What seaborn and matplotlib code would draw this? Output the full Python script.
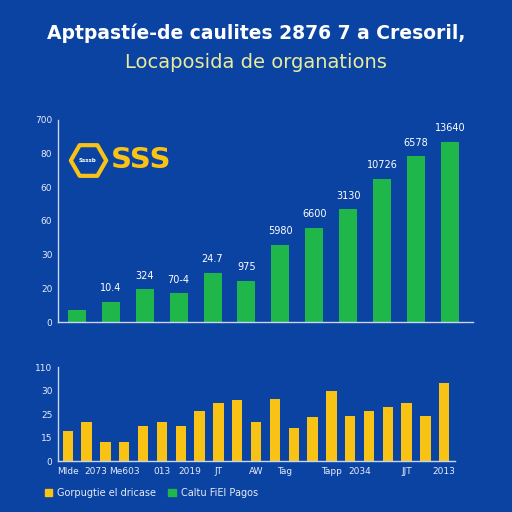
import pandas as pd
import matplotlib
matplotlib.use("Agg")
import matplotlib.pyplot as plt
import seaborn as sns
from matplotlib.patches import Patch

# dados
top_cats = ['a1', 'a2', 'a3', 'a4', 'a5', 'a6', 'a7', 'a8', 'a9', 'a10', 'a11', 'a12']
top_vals = [7, 12, 19.7, 17.3, 29.3, 24.5, 46, 56, 67, 85, 98.5, 107]
top_labels = ['', '10.4', '324', '70-4', '24.7', '975', '5980', '6600', '3130', '10726', '6578', '13640']
top_yticks = [0, 20, 40, 60, 80, 100, 120]
top_ytick_labels = ['0', '20', '30', '60', '60', '80', '700']

bot_cats = ['b%d' % i for i in range(21)]
bot_vals = [12.6, 16.5, 8.3, 8.2, 14.8, 16.5, 14.8, 21.2, 24.8, 26, 16.5,
            26.4, 13.9, 18.6, 30, 19.1, 21.2, 23, 24.8, 19.1, 33.5]
bot_yticks = [0, 10, 20, 30, 40]
bot_ytick_labels = ['0', '15', '25', '30', '110']
bot_xticks = [0, 1.5, 3, 5, 6.5, 8, 10, 11.5, 14, 15.5, 18, 20]
bot_xtick_labels = ['Mlde', '2073', 'Me603', '013', '2019', 'JT', 'AW', 'Tag', 'Tapp', '2034', 'JJT', '2013']

legend_labels = ['Gorpugtie el dricase', 'Caltu FiEl Pagos']

bg = '#0b43a3'
green = '#1fb64a'
yellow = '#f9c316'
txt = '#e6ecf8'

sns.set_theme(style='white')
plt.rcParams['font.family'] = ['DejaVu Sans']

fig = plt.figure(figsize=(5.12, 5.12), dpi=100, facecolor=bg)

fig.text(0.5, 0.935, 'Aptpastíe-de caulites 2876 7 a Cresoril,', ha='center', va='center',
         color='white', fontsize=13.5, fontweight='bold')
fig.text(0.5, 0.878, 'Locaposida de organations', ha='center', va='center',
         color='#e9eb9c', fontsize=14)

# grafico de cima
ax1 = fig.add_axes([0.113, 0.371, 0.811, 0.395], facecolor='none')
df1 = pd.DataFrame({'cat': top_cats, 'val': top_vals})
sns.barplot(data=df1, x='cat', y='val', order=top_cats, color=green, width=0.53,
            saturation=1, linewidth=0, ax=ax1)
ax1.bar_label(ax1.containers[0], labels=top_labels, padding=6, color='white', fontsize=7)
ax1.set_xlim(-0.56, 11.68)
ax1.set_ylim(0, 120)
ax1.set_yticks(top_yticks)
ax1.set_yticklabels(top_ytick_labels)
ax1.set_xticks([])
ax1.set_xlabel('')
ax1.set_ylabel('')

# logo
ax1.scatter([0.072], [0.80], transform=ax1.transAxes, marker='H', s=650,
            facecolor=bg, edgecolor=yellow, linewidths=3, clip_on=False, zorder=5)
ax1.text(0.072, 0.80, 'Ssssb', transform=ax1.transAxes, ha='center', va='center',
         color='white', fontsize=4, fontweight='bold', zorder=6)
ax1.text(0.128, 0.80, 'SSS', transform=ax1.transAxes, ha='left', va='center',
         color=yellow, fontsize=21, fontweight='bold', zorder=6)

# grafico de baixo
ax2 = fig.add_axes([0.113, 0.0996, 0.776, 0.183], facecolor='none')
df2 = pd.DataFrame({'cat': bot_cats, 'val': bot_vals})
sns.barplot(data=df2, x='cat', y='val', order=bot_cats, color=yellow, width=0.55,
            saturation=1, linewidth=0, ax=ax2)
ax2.set_xlim(-0.53, 20.58)
ax2.set_ylim(0, 40)
ax2.set_yticks(bot_yticks)
ax2.set_yticklabels(bot_ytick_labels)
ax2.set_xticks(bot_xticks)
ax2.set_xticklabels(bot_xtick_labels)
ax2.set_xlabel('')
ax2.set_ylabel('')

for ax in (ax1, ax2):
    for s in ('top', 'right'):
        ax.spines[s].set_visible(False)
    for s in ('left', 'bottom'):
        ax.spines[s].set_color('#c9d6f0')
        ax.spines[s].set_linewidth(1)
    ax.tick_params(axis='both', length=0, colors=txt, labelsize=6.5, pad=4)

handles = [Patch(color=yellow), Patch(color=green)]
fig.legend(handles, legend_labels, loc='lower left', bbox_to_anchor=(0.07, 0.01), ncol=2,
           frameon=False, fontsize=7, labelcolor=txt, handlelength=0.8, handleheight=0.8,
           handletextpad=0.5, columnspacing=1.2)

fig.savefig('out.png', dpi=100, facecolor=bg)
